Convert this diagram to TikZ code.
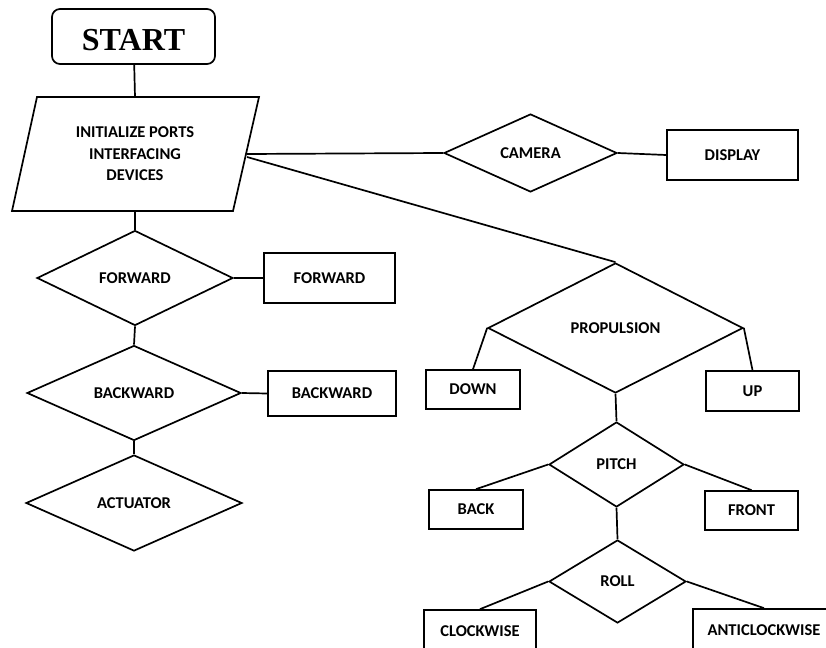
\documentclass[tikz,border=0pt]{standalone}
\usepackage{fontspec}
\setmainfont{Carlito}
\newfontfamily\startfont{Liberation Serif}
\usetikzlibrary{shapes.geometric}
\begin{document}
\begin{tikzpicture}[x=1pt,y=-1pt,line width=1.7pt,
    every node/.style={font=\fontsize{16.5}{21.5}\selectfont\bfseries},
    box/.style 2 args={draw,rectangle,inner sep=0,minimum width=#1,minimum height=#2},
    decision/.style 2 args={draw,diamond,aspect=2,inner sep=0,minimum width=#1,minimum height=#2}]
    \useasboundingbox (0,0) rectangle (826,647);
    \clip (0,0) rectangle (826,647);

    \node [draw,rounded corners=8pt,minimum width=163,minimum height=55,inner sep=0,text height=29pt,text depth=0pt,
           font=\startfont\fontsize{32}{36}\selectfont\bfseries] (start) at (133.5,36.5) {START};

    \draw (37,97) -- (259,97) -- (233,211) -- (12,211) -- cycle;
    \node [align=center] (init) at (135,154) {INITIALIZE PORTS\\INTERFACING\\DEVICES};
    \coordinate (initTop) at (135,97);
    \coordinate (initBot) at (135,211);
    \coordinate (initCam) at (247,154);
    \coordinate (initProp) at (247,157);

    \node [decision={196}{95}] (fwdD) at (135,278) {FORWARD};
    \node [box={131}{50}] (fwdB) at (329.5,278) {FORWARD};
    \node [decision={214}{95}] (bwdD) at (134,393) {BACKWARD};
    \node [box={128}{45}] (bwdB) at (332,393.5) {BACKWARD};
    \node [decision={216}{96}] (actD) at (134,503) {ACTUATOR};

    \node [decision={173}{78}] (camD) at (530.5,153) {CAMERA};
    \node [box={131}{50}] (dispB) at (732.5,155) {DISPLAY};

    \node [decision={255}{130}] (propD) at (615.5,328) {PROPULSION};
    \node [box={94}{39}] (downB) at (473,389.5) {DOWN};
    \node [box={93}{40}] (upB) at (752.5,391) {UP};

    \node [decision={135}{85}] (pitchD) at (616.5,464.5) {PITCH};
    \node [box={94}{39}] (backB) at (476,509.5) {BACK};
    \node [box={93}{39}] (frontB) at (751.5,510.5) {FRONT};

    \node [decision={137}{83}] (rollD) at (617.5,581.5) {ROLL};
    \node [box={112}{42}] (cwB) at (480,631) {CLOCKWISE};
    \node [box={142}{42}] (acwB) at (764,630) {ANTICLOCKWISE};

    \draw (start) -- (initTop);
    \draw (initBot) -- (fwdD.north);
    \draw (fwdD) -- (fwdB);
    \draw (fwdD.south) -- (bwdD.north);
    \draw (bwdD.east) -- (bwdB.west);
    \draw (bwdD.south) -- (actD.north);
    \draw (initCam) -- (camD.west);
    \draw (camD.east) -- (dispB.west);
    \draw (initProp) -- (propD.north);
    \draw (propD.west) -- (downB.north);
    \draw (propD.east) -- (upB.north);
    \draw (propD.south) -- (pitchD.north);
    \draw (pitchD.west) -- (backB.north);
    \draw (pitchD.east) -- (frontB.north);
    \draw (pitchD.south) -- (rollD.north);
    \draw (rollD.west) -- (cwB.north);
    \draw (rollD.east) -- (acwB.north);
\end{tikzpicture}
\end{document}
